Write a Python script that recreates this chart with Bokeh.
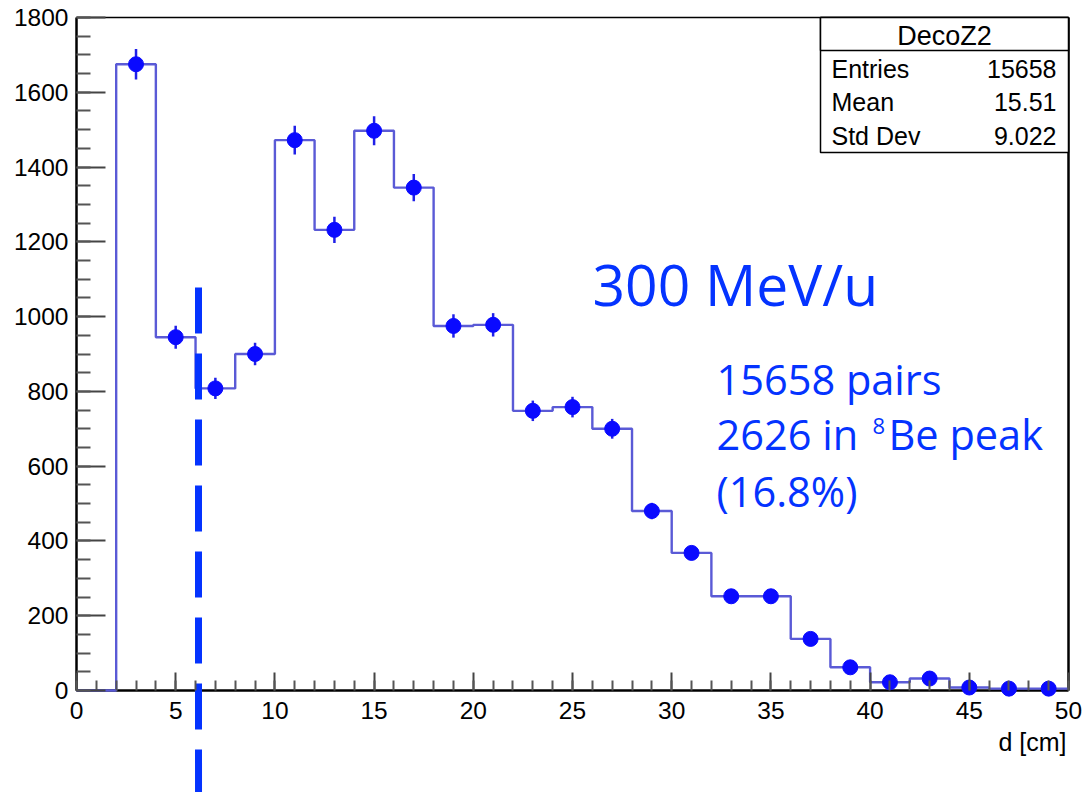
import numpy as np
from bokeh.plotting import figure
from bokeh.models import Label, BoxAnnotation, FixedTicker, ColumnDataSource
from bokeh.embed import file_html
from bokeh.resources import INLINE

# ---- data ----
bin_edges = list(range(0, 52, 2))
counts = [0, 1675, 945, 808, 900, 1472, 1232, 1497, 1345, 975, 978, 748, 758, 700,
          480, 368, 252, 252, 138, 62, 22, 32, 8, 5, 5]
stats_names = ["Entries", "Mean", "Std Dev"]
stats_values = ["15658", "15.51", "9.022"]
hist_title = "DecoZ2"
x_label = "d [cm]"
cut_position = 6.15
big_text = "300 MeV/u"
info_lines = ["15658 pairs", "2626 in", "(16.8%)"]
x_ticks = list(range(0, 51, 5))
x_minor = list(range(0, 51, 1))
y_ticks = list(range(0, 1801, 200))
y_minor = list(range(0, 1801, 50))

# ---- geometry (page px) ----
XMIN, XMAX, YMIN, YMAX = 0, 50, 0, 1800
X0PX, X1PX, Y0PX, Y1PX = 76, 1068, 690, 17   # pixel of XMIN, XMAX, YMIN, YMAX
FL, FT, FW, FH = 0, 0, 1084, 792               # frame covers the whole canvas
sx = (X1PX - X0PX) / (XMAX - XMIN)
sy = (Y0PX - Y1PX) / (YMAX - YMIN)
x_start = XMIN - (X0PX - FL) / sx
x_end = XMAX + (FL + FW - X1PX) / sx
y_end = YMAX + (Y1PX - FT) / sy
y_start = YMIN - (FT + FH - Y0PX) / sy

def dx(px):
    return XMIN + (px - X0PX) / sx

def dy(py):
    return YMIN + (Y0PX - py) / sy

p = figure(frame_width=FW, frame_height=FH,
           x_range=(x_start, x_end), y_range=(y_start, y_end),
           output_backend="svg", toolbar_location=None,
           min_border_left=0, min_border_top=0,
           min_border_right=0, min_border_bottom=0)
p.background_fill_color = "white"
p.border_fill_color = "white"
p.grid.visible = False
p.outline_line_color = None

# axes drawn at the data origin
p.xaxis.fixed_location = YMIN
p.yaxis.fixed_location = XMIN
p.xaxis.ticker = FixedTicker(ticks=x_ticks, minor_ticks=x_minor)
p.yaxis.ticker = FixedTicker(ticks=y_ticks, minor_ticks=y_minor)
for ax in (p.xaxis, p.yaxis):
    ax.axis_line_color = None
    ax.major_tick_line_color = "#444444"
    ax.minor_tick_line_color = "#555555"
    ax.major_tick_line_width = 2
    ax.minor_tick_line_width = 2
    ax.major_tick_out = 0
    ax.minor_tick_out = 0
    ax.major_label_text_font = "Liberation Sans"
    ax.major_label_text_font_size = "24.5px"
    ax.major_label_text_color = "black"
    ax.major_label_text_font_style = "normal"
p.yaxis.major_tick_in = 29
p.yaxis.minor_tick_in = 14
p.xaxis.major_tick_in = 18
p.xaxis.minor_tick_in = 10
p.yaxis.major_label_standoff = 8
p.xaxis.major_label_standoff = 11

# frame spines
p.segment(x0=[XMIN, XMIN, XMIN, XMAX], y0=[YMIN, YMIN, YMAX, YMIN],
          x1=[XMIN, XMAX, XMAX, XMAX], y1=[YMAX, YMIN, YMAX, YMAX],
          line_color="black", line_width=[2.5, 2.5, 1.5, 2.5])

# histogram step line
edges = np.array(bin_edges, dtype=float)
cnt = np.array(counts, dtype=float)
step_y = np.append(cnt, cnt[-1])
p.step(edges, step_y, mode="after", line_color="#5a5ad6", line_width=2.4)

# points + error bars
centers = (edges[:-1] + edges[1:]) / 2
mask = cnt > 0
err = np.sqrt(cnt)
src = ColumnDataSource(dict(x=centers[mask], y=cnt[mask],
                            lo=(cnt - err)[mask], hi=(cnt + err)[mask]))
p.segment(x0="x", y0="lo", x1="x", y1="hi", source=src, line_color="#2020e8", line_width=2.5)
p.scatter("x", "y", source=src, size=15, fill_color="#0a0aff", line_color="#0a0aff")

# dashed cut line
blue = "#0433ff"
p.line([cut_position, cut_position], [dy(287), y_start], line_color=blue,
       line_width=7, line_dash="46 20")

# stats box
p.add_layout(BoxAnnotation(left=dx(820), right=dx(1068), top=dy(17), bottom=dy(152),
                           fill_color="white", fill_alpha=1.0, line_color="black",
                           line_alpha=1.0, line_width=1.5))
p.add_layout(BoxAnnotation(left=dx(820), right=dx(1068), top=dy(17), bottom=dy(50),
                           fill_color="white", fill_alpha=1.0, line_color="black",
                           line_alpha=1.0, line_width=1.5))
p.add_layout(Label(x=dx(944), y=dy(35), text=hist_title, text_align="center",
                   text_baseline="middle", text_font="Liberation Sans",
                   text_font_size="27px", text_color="black", level="overlay"))
for i, (nm, vl) in enumerate(zip(stats_names, stats_values)):
    yy = dy(68 + i * 33.5)
    p.add_layout(Label(x=dx(831), y=yy, text=nm, text_align="left",
                       text_baseline="middle", text_font="Liberation Sans",
                       text_font_size="25px", text_color="black", level="overlay"))
    p.add_layout(Label(x=dx(1056), y=yy, text=vl, text_align="right",
                       text_baseline="middle", text_font="Liberation Sans",
                       text_font_size="25px", text_color="black", level="overlay"))

# axis title
p.add_layout(Label(x=dx(1066), y=dy(741), text=x_label, text_align="right",
                   text_baseline="middle", text_font="Liberation Sans",
                   text_font_size="25px", text_color="black"))

# annotations
p.add_layout(Label(x=dx(592), y=dy(283), text=big_text, text_align="left",
                   text_baseline="middle", text_font="Open Sans",
                   text_font_size="57px", text_color=blue))
line_y = [378, 433, 490]
for txt, ly in zip(info_lines, line_y):
    p.add_layout(Label(x=dx(716), y=dy(ly), text=txt, text_align="left",
                       text_baseline="middle", text_font="Open Sans",
                       text_font_size="41.5px", text_color=blue))
p.add_layout(Label(x=dx(872), y=dy(425), text="8", text_align="left",
                   text_baseline="middle", text_font="Open Sans",
                   text_font_size="22px", text_color=blue))
p.add_layout(Label(x=dx(888), y=dy(line_y[1]), text="Be peak", text_align="left",
                   text_baseline="middle", text_font="Open Sans",
                   text_font_size="41.5px", text_color=blue))

open("out.html", "w").write(file_html(p, INLINE))
